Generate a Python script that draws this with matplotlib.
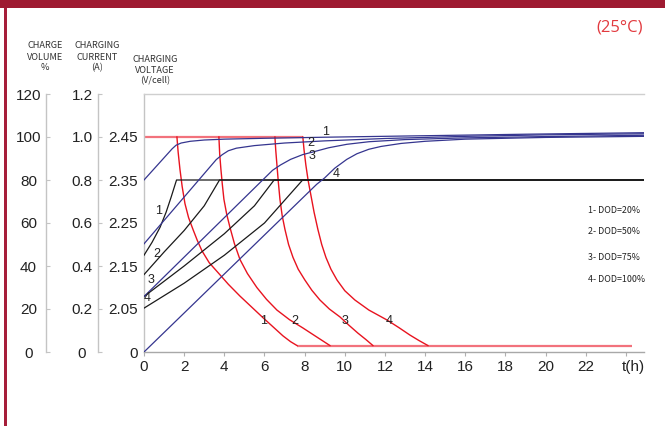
import matplotlib
matplotlib.use("Agg")
import matplotlib.pyplot as plt
from matplotlib.patches import Rectangle
from matplotlib.transforms import ScaledTranslation

# ---------------- data ----------------
# charging current (A) curves, numbered by DOD
cur_t1 = [1.64, 1.70, 1.79, 1.90, 2.04, 2.22, 2.44, 2.65, 2.89, 3.25, 3.68, 4.2, 4.78, 5.35, 5.92, 6.45, 6.92, 7.30, 7.62]
cur_i1 = [1.0, 0.93, 0.85, 0.77, 0.69, 0.625, 0.57, 0.52, 0.47, 0.415, 0.37, 0.315, 0.26, 0.21, 0.16, 0.115, 0.075, 0.048, 0.03]
cur_t2 = [3.73, 3.77, 3.83, 3.90, 3.98, 4.12, 4.28, 4.50, 4.78, 5.15, 5.62, 6.10, 6.62, 7.25, 7.91, 8.6, 9.26]
cur_i2 = [1.0, 0.92, 0.85, 0.78, 0.71, 0.64, 0.58, 0.505, 0.43, 0.365, 0.30, 0.245, 0.195, 0.15, 0.112, 0.07, 0.03]
cur_t3 = [6.52, 6.56, 6.62, 6.69, 6.77, 6.88, 7.02, 7.20, 7.42, 7.68, 8.01, 8.36, 8.76, 9.23, 9.76, 10.2, 10.65, 11.05, 11.40]
cur_i3 = [1.0, 0.94, 0.87, 0.79, 0.71, 0.635, 0.57, 0.50, 0.44, 0.385, 0.335, 0.287, 0.242, 0.20, 0.163, 0.125, 0.088, 0.058, 0.03]
cur_t4 = [7.91, 7.97, 8.06, 8.17, 8.31, 8.47, 8.66, 8.85, 9.06, 9.31, 9.61, 10.0, 10.50, 11.2, 12.10, 12.7, 13.24, 13.7, 14.14]
cur_i4 = [1.0, 0.94, 0.87, 0.80, 0.73, 0.65, 0.57, 0.50, 0.44, 0.385, 0.335, 0.285, 0.242, 0.195, 0.149, 0.113, 0.079, 0.053, 0.03]
cur_top_t = [0.0, 7.91]
cur_top_i = [1.0, 1.0]
cur_low_t = [7.62, 24.3]
cur_low_i = [0.03, 0.03]

# charge volume (%) curves
vol_t1 = [0, 1.40, 1.60, 1.85, 2.3, 3.0, 4.0, 6.0, 9.0, 14.0, 19.0, 24.9]
vol_v1 = [80, 94.5, 96.2, 97.2, 98.0, 98.6, 99.0, 99.4, 99.9, 100.6, 101.3, 102.0]
vol_t2 = [0, 3.6, 3.9, 4.2, 4.6, 5.5, 7.0, 9.0, 12.0, 16.0, 20.0, 24.9]
vol_v2 = [50.3, 89.5, 91.8, 93.6, 94.8, 96.0, 97.2, 98.2, 99.3, 100.3, 101.0, 101.5]
vol_t3 = [0, 6.4, 6.8, 7.3, 7.9, 8.4, 9.2, 10.1, 11.2, 13.0, 16.0, 20.0, 24.9]
vol_v3 = [25.8, 84.5, 87.0, 89.6, 91.8, 93.0, 95.0, 96.6, 97.8, 98.8, 99.6, 100.2, 100.8]
vol_t4 = [0, 8.6, 9.0, 9.5, 10.1, 10.6, 11.2, 11.8, 12.8, 14.0, 16.0, 20.0, 24.9]
vol_v4 = [0, 78.0, 81.0, 85.5, 89.6, 92.2, 94.3, 95.6, 97.0, 98.0, 99.0, 99.8, 100.3]

# charging voltage (V/cell) curves
volt_t1 = [0, 0.4, 0.8, 1.1, 1.35, 1.62, 24.9]
volt_v1 = [2.175, 2.205, 2.24, 2.275, 2.31, 2.35, 2.35]
volt_t2 = [0, 1.0, 2.0, 3.0, 3.76, 24.9]
volt_v2 = [2.13, 2.1825, 2.2325, 2.29, 2.35, 2.35]
volt_t3 = [0, 2.0, 4.0, 5.5, 6.48, 24.9]
volt_v3 = [2.079, 2.15, 2.225, 2.29, 2.35, 2.35]
volt_t4 = [0, 2.0, 4.0, 6.0, 7.9, 24.9]
volt_v4 = [2.052, 2.11, 2.175, 2.25, 2.35, 2.35]

vol_ticks = [0, 20, 40, 60, 80, 100, 120]
cur_ticks = ["0", "0.2", "0.4", "0.6", "0.8", "1.0", "1.2"]
volt_ticks = ["0", "2.05", "2.15", "2.25", "2.35", "2.45"]
x_ticks = [0, 2, 4, 6, 8, 10, 12, 14, 16, 18, 20, 22, 24]
x_labels = ["0", "2", "4", "6", "8", "10", "12", "14", "16", "18", "20", "22", "t(h)"]
dod_labels = ["1- DOD=20%", "2- DOD=50%", "3- DOD=75%", "4- DOD=100%"]

# ---------------- helpers ----------------
W, H = 665, 426


def fx(x):
    return x / W


def fy(y):
    return 1 - y / H


def cur2axis(vals):
    return [v * 100 for v in vals]


def volt2axis(vals):
    return [20 + (v - 2.05) / 0.005 for v in vals]


RED = "#e8131f"
PINK = "#f2727c"
BLUE = "#35358f"
BLACK = "#1a1a1a"
NUMF = "Liberation Sans"
NARROW = ["Noto Sans CJK JP", "DejaVu Sans"]

fig = plt.figure(figsize=(6.65, 4.26), dpi=100)
fig.patch.set_facecolor("white")

# banner and left border
fig.patches.append(Rectangle((0, fy(7.5)), 1, 1 - fy(7.5), transform=fig.transFigure,
                             facecolor="#9e1a31", edgecolor="none", zorder=0))
fig.patches.append(Rectangle((fx(4), 0), fx(2.7), fy(7.5), transform=fig.transFigure,
                             facecolor="#a61e3a", edgecolor="none", zorder=0))

bottom = fy(352)
height = fy(94) - fy(352)
ax = fig.add_axes([fx(144), bottom, fx(500), height])
ax.set_xlim(0, 24.9)
ax.set_ylim(0, 120)

# curves
for t, i in [(cur_top_t, cur_top_i), (cur_low_t, cur_low_i)]:
    ax.plot(t, cur2axis(i), color=PINK, lw=1.6, solid_capstyle="butt", zorder=2)
for t, i in [(cur_t1, cur_i1), (cur_t2, cur_i2), (cur_t3, cur_i3), (cur_t4, cur_i4)]:
    ax.plot(t, cur2axis(i), color=RED, lw=1.0, zorder=3)
for t, v in [(vol_t1, vol_v1), (vol_t2, vol_v2), (vol_t3, vol_v3), (vol_t4, vol_v4)]:
    ax.plot(t, v, color=BLUE, lw=0.9, zorder=4)
for t, v in [(volt_t1, volt_v1), (volt_t2, volt_v2), (volt_t3, volt_v3), (volt_t4, volt_v4)]:
    ax.plot(t, volt2axis(v), color=BLACK, lw=0.9, zorder=3)

# curve number labels
lab_kw = dict(fontsize=9, family=NUMF, color="#222222", ha="center", va="center", zorder=6)
for s, (t, v) in zip("1234", [(5.95, 14.6), (7.5, 14.6), (10.03, 14.6), (12.2, 14.6)]):
    ax.text(t, v, s, **lab_kw)
for s, (t, v) in zip("1234", [(9.03, 102.4), (8.33, 97.0), (8.36, 91.2), (9.58, 83.0)]):
    ax.text(t, v, s, **lab_kw)
for s, (t, v) in zip("1234", [(0.71, 65.8), (0.63, 45.8), (0.33, 33.6), (0.18, 25.1)]):
    ax.text(t, v, s, **lab_kw)

# main axes styling
ax.spines["right"].set_visible(False)
ax.spines["top"].set_color("#cfcfcf")
ax.spines["left"].set_color("#c4c4c4")
ax.spines["bottom"].set_color("#a8a8a8")
for sp in ["top", "left", "bottom"]:
    ax.spines[sp].set_linewidth(1.0)
ax.set_yticks(vol_ticks[:6])
ax.set_yticklabels(volt_ticks, family=NUMF, fontsize=11, color="#222222")
ax.tick_params(axis="y", length=0, pad=4.7)
ax.set_xticks(x_ticks)
ax.set_xticklabels(x_labels, family=NUMF, fontsize=11, color="#222222")
ax.tick_params(axis="x", direction="out", length=3, color="#b0b0b0", pad=2.5)
last = ax.get_xticklabels()[-1]
last.set_transform(last.get_transform() + ScaledTranslation(0.07, 0, fig.dpi_scale_trans))

# secondary scale axes (charge volume, charging current)
for xpos, labels, pad in [(46, [str(v) for v in vol_ticks], 12.6), (97.7, cur_ticks, 11.3)]:
    a2 = fig.add_axes([fx(xpos), bottom, 0.0001, height])
    a2.set_ylim(0, 120)
    a2.set_xticks([])
    for sp in ["top", "right", "bottom"]:
        a2.spines[sp].set_visible(False)
    a2.spines["left"].set_color("#c4c4c4")
    a2.spines["left"].set_linewidth(1.0)
    a2.set_yticks(vol_ticks)
    a2.set_yticklabels(labels, family=NUMF, fontsize=11, color="#222222")
    a2.tick_params(axis="y", direction="in", length=3, color="#c4c4c4", pad=pad)
    for lab in a2.get_yticklabels():
        lab.set_ha("center")
    a2.patch.set_visible(False)

# header texts
hdr_kw = dict(family=NARROW, fontsize=6.6, color="#333333", ha="center", va="center")
for x, lines, ys in [(45, ["CHARGE", "VOLUME", "%"], [46, 57, 67.5]),
                     (97, ["CHARGING", "CURRENT", "(A)"], [46, 57, 67.5]),
                     (155, ["CHARGING", "VOLTAGE", "(V/cell)"], [60, 70.5, 80.5])]:
    for s, y in zip(lines, ys):
        fig.text(fx(x), fy(y), s, **hdr_kw)

fig.text(fx(643), fy(27), "(25\u00b0C)", family="Open Sans", fontsize=12, color="#e23a3f",
         ha="right", va="center")

for s, y in zip(dod_labels, [211, 232, 257, 280]):
    fig.text(fx(588), fy(y), s, family=NARROW, fontsize=6.4, color="#222222", ha="left", va="center")

fig.savefig("out.png", dpi=100, facecolor="white")
